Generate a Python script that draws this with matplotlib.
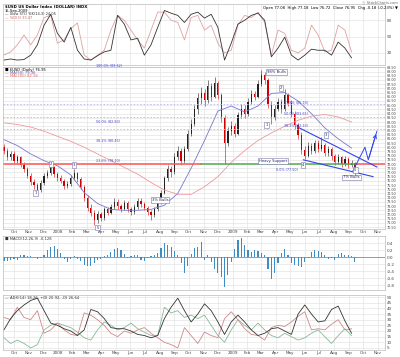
"""
$USD weekly candles with MA(50)/MA(200), stochastics, MACD histogram and ADX.
"""
import numpy as np
import pandas as pd
import matplotlib
matplotlib.use("Agg")
import matplotlib.pyplot as plt
import matplotlib.dates as mdates

# ---- data (weekly, starting 2007-09-10) ----
start = "2007-09-10"
first_open = 80.0
closes = [79.6, 78.8, 79.2, 78.4, 78.8, 77.9, 77.4, 76.6, 75.9, 75.5,
          74.9, 75.8, 76.6, 76.9, 77.6, 76.8, 76.3, 76.0, 75.4, 75.6,
          76.3, 76.9, 76.2, 75.3, 74.0, 72.8, 72.2, 71.3, 72.0, 71.6,
          72.6, 72.2, 72.9, 73.5, 73.0, 72.7, 73.4, 72.6, 72.3, 72.9,
          73.6, 73.2, 72.8, 72.3, 71.9, 72.6, 73.5, 74.6, 76.3, 77.4,
          77.0, 78.8, 79.6, 78.4, 79.8, 81.6, 82.8, 84.5, 85.8, 86.4,
          85.6, 87.3, 86.0, 87.6, 86.2, 83.5, 80.5, 81.9, 82.5, 81.6,
          83.8, 84.6, 83.9, 85.4, 86.3, 86.0, 87.5, 88.6, 88.0, 85.2,
          83.5, 84.6, 85.4, 84.5, 86.2, 85.3, 84.0, 82.6, 81.5, 79.7,
          79.0, 80.2, 79.6, 80.5, 79.8, 80.3, 79.3, 79.8, 78.9, 78.3,
          78.8, 78.0, 78.6, 77.9, 78.1, 76.9]
highs = [80.4, 79.9, 79.6, 79.5, 79.1, 79.0, 78.2, 77.7, 76.9, 76.2,
         75.8, 76.1, 76.9, 77.3, 78.0, 77.8, 77.1, 76.7, 76.2, 76.0,
         76.7, 77.4, 77.1, 76.4, 75.5, 74.3, 73.2, 72.5, 72.4, 72.3,
         72.9, 72.9, 73.2, 73.9, 73.8, 73.3, 73.7, 73.6, 72.9, 73.2,
         74.0, 73.9, 73.5, 73.0, 72.5, 72.9, 73.8, 74.9, 76.6, 77.9,
         77.8, 79.3, 80.2, 79.9, 80.2, 82.0, 83.3, 85.0, 86.5, 87.2,
         86.9, 88.0, 87.6, 88.3, 87.9, 86.5, 83.8, 82.4, 83.1, 82.9,
         84.2, 85.1, 85.0, 85.8, 86.8, 86.7, 88.0, 89.2, 89.0, 88.2,
         85.5, 85.0, 85.9, 85.7, 86.9, 86.5, 85.6, 84.3, 82.9, 81.8,
         80.1, 80.6, 80.5, 80.9, 80.8, 81.2, 80.5, 80.1, 80.0, 79.2,
         79.2, 79.0, 79.0, 78.8, 78.5, 78.3]
lows = [79.2, 78.5, 78.5, 78.1, 78.1, 77.6, 77.0, 76.3, 75.5, 75.0,
        74.5, 74.7, 75.5, 76.3, 76.7, 76.5, 76.0, 75.7, 75.0, 75.1,
        75.4, 76.1, 75.9, 75.0, 73.6, 72.4, 71.8, 70.7, 71.0, 71.2,
        71.4, 71.9, 72.0, 72.7, 72.7, 72.3, 72.5, 72.3, 71.9, 72.1,
        72.7, 72.9, 72.5, 71.9, 71.4, 71.7, 72.4, 73.3, 74.4, 76.0,
        76.5, 76.8, 78.5, 77.9, 78.1, 79.5, 81.3, 82.5, 84.0, 85.2,
        84.9, 85.3, 85.5, 85.8, 85.7, 83.0, 78.0, 80.2, 81.5, 81.2,
        81.4, 83.5, 83.5, 83.7, 85.1, 85.6, 85.8, 87.3, 87.5, 84.7,
        82.8, 83.2, 84.3, 84.1, 84.3, 84.9, 83.6, 82.2, 81.0, 79.2,
        78.6, 78.8, 79.2, 79.3, 79.4, 79.5, 78.9, 79.0, 78.5, 77.9,
        78.0, 77.6, 77.8, 77.5, 77.6, 76.6]

# moving averages, every 4th week
ma50 = [80.9, 80.2, 79.2, 78.4, 77.8, 76.7, 74.6, 73.3, 72.6, 72.5,
        72.5, 72.6, 73.1, 74.5, 77.5, 80.8, 84.3, 84.9, 84.2, 84.9,
        86.4, 86.5, 85.5, 84.0, 82.3, 81.0, 79.9]
ma200 = [82.9, 82.7, 82.4, 81.9, 81.3, 80.7, 80.0, 79.2, 78.4, 77.6,
         76.8, 75.8, 74.9, 74.4, 74.4, 75.3, 76.5, 78.2, 79.6, 80.8,
         81.7, 82.5, 83.2, 83.7, 83.9, 83.6, 83.0]

# indicators, every 2nd week
stoch_k = [7, 9, 7, 8, 16, 35, 71, 91, 56, 40, 67, 25, 9, 7, 15, 22, 25, 89,
           73, 44, 47, 16, 35, 67, 98, 93, 89, 76, 91, 95, 84, 91, 67, 7, 38,
           73, 80, 89, 93, 80, 13, 29, 49, 16, 7, 16, 27, 25, 25, 16, 40, 29, 11]
stoch_d = [16, 22, 35, 53, 35, 53, 85, 89, 38, 44, 65, 75, 16, 7, 16, 25, 62,
           89, 80, 62, 44, 29, 62, 95, 95, 80, 76, 44, 85, 89, 62, 71, 38, 20,
           25, 71, 89, 85, 95, 76, 16, 62, 56, 25, 20, 29, 71, 53, 22, 25, 71, 62, 22]
adx = [21, 31, 38, 43, 47, 49, 38, 27, 25, 22, 20, 16, 21, 39, 37, 31, 23, 22,
       22, 20, 17, 16, 14, 16, 31, 41, 49, 38, 28, 35, 44, 38, 28, 17, 28, 34,
       28, 21, 16, 18, 22, 23, 20, 17, 35, 43, 35, 28, 29, 39, 42, 29, 18]
minus_di = [32, 30, 41, 32, 30, 38, 18, 21, 27, 21, 17, 16, 36, 34, 30, 25, 18,
            15, 20, 18, 21, 23, 18, 14, 10, 8, 5, 23, 16, 9, 19, 16, 14, 31, 37,
            30, 22, 17, 16, 12, 23, 25, 24, 28, 33, 37, 21, 22, 21, 26, 30, 21, 22]
plus_di = [14, 9, 12, 9, 5, 8, 21, 25, 27, 25, 23, 19, 14, 12, 21, 28, 25, 21,
           23, 27, 22, 19, 16, 16, 41, 36, 38, 32, 34, 31, 34, 25, 16, 10, 21,
           30, 25, 21, 27, 21, 16, 14, 18, 15, 12, 14, 18, 21, 15, 9, 16, 22, 16]

# MACD histogram, weekly
macd_hist = [-0.11, -0.11, -0.09, -0.06, -0.09, 0.06, 0.06, 0.03, 0.03, 0.01,
             -0.06, -0.03, 0.06, 0.20, 0.29, 0.31, 0.23, 0.11, -0.06, -0.14,
             -0.06, 0.03, -0.06, -0.11, -0.23, -0.26, -0.26, -0.17, -0.09, -0.06,
             0.03, 0.06, 0.14, 0.23, 0.26, 0.20, 0.09, -0.03, 0.03, 0.06,
             0.06, -0.09, -0.11, -0.03, 0.03, 0.06, 0.11, 0.26, 0.40, 0.34,
             0.29, 0.17, 0.06, -0.17, -0.46, -0.26, 0.09, 0.26, 0.29, 0.43,
             -0.09, 0.06, -0.14, -0.34, -0.46, -0.57, -0.86, -0.51, -0.14, 0.23,
             0.49, 0.54, 0.34, 0.20, 0.14, 0.20, 0.17, 0.11, 0.06, -0.34,
             -0.63, -0.46, -0.17, 0.11, 0.23, 0.06, -0.17, -0.23, -0.26, -0.29,
             -0.14, -0.03, 0.14, 0.20, 0.17, 0.14, 0.06, -0.06, -0.03, -0.09,
             0.09, 0.11, 0.06, 0.06, 0.03, -0.14]

support = 78.0
fib_levels = [85.2, 83.6, 82.2]
upper_dates = ["2009-05-17", "2009-10-30"]
upper_vals = [82.4, 77.65]
lower_dates = ["2009-05-29", "2009-10-22"]
lower_vals = [78.5, 76.5]
proj_dates = ["2009-09-10", "2009-10-05", "2009-10-12", "2009-10-30"]
proj_vals = [77.2, 80.0, 78.5, 81.9]


def d(s):
    return mdates.date2num(pd.Timestamp(s))


weeks = mdates.date2num(pd.date_range(start, periods=len(closes), freq="7D"))
opens = [first_open] + closes[:-1]
xlim = (d("2007-09-08"), d("2009-11-16"))
months = pd.date_range("2007-10-01", "2009-11-01", freq="MS")
month_x = mdates.date2num(months)
month_lbl = [str(m.year) if m.month == 1 else m.strftime("%b") for m in months]

GRID = "#e4e4e4"
FS = 3.0

fig = plt.figure(figsize=(4, 3.57), dpi=100)
fig.patch.set_facecolor("white")
ax_top = fig.add_axes([0.0075, 0.818, 0.955, 0.171])
ax = fig.add_axes([0.0075, 0.3585, 0.955, 0.454])
ax_macd = fig.add_axes([0.0075, 0.1877, 0.955, 0.151])
ax_adx = fig.add_axes([0.0075, 0.0196, 0.955, 0.154])

for a in (ax_top, ax, ax_macd, ax_adx):
    a.set_xlim(*xlim)
    a.set_xticks(month_x)
    a.grid(True, color=GRID, lw=0.5)
    a.set_axisbelow(True)
    a.yaxis.tick_right()
    a.tick_params(length=0, labelsize=FS, pad=1, colors="#444444")
    for s in a.spines.values():
        s.set_color("#bbbbbb")
        s.set_linewidth(0.5)
for a in (ax_top, ax_macd):
    a.set_xticklabels([])
for a in (ax, ax_adx):
    a.set_xticklabels(month_lbl)

# ---- top panel: stochastics ----
w2 = weeks[::2]
ax_top.plot(w2, stoch_d, color="#e0a0a0", lw=0.6)
ax_top.plot(w2, stoch_k, color="#333333", lw=0.6)
ax_top.set_ylim(-2, 110)
ax_top.set_yticks([20, 50, 80])
ax_top.text(0.005, 0.99, "$USD US Dollar Index (DOLLAR) INDX", transform=ax_top.transAxes,
            fontsize=FS - 0.2, va="top", fontweight="bold")
ax_top.text(0.005, 0.92, "15-Sep-2009", transform=ax_top.transAxes, fontsize=FS - 0.4, va="top")
ax_top.text(0.005, 0.86, "— Slow STO %K(14,3) 24.05", transform=ax_top.transAxes,
            fontsize=FS - 0.4, va="top", color="#333333")
ax_top.text(0.005, 0.80, "— %D(3) 33.47", transform=ax_top.transAxes,
            fontsize=FS - 0.4, va="top", color="#cc6666")
fig.text(0.995, 0.997, "© StockCharts.com", fontsize=FS - 0.4, ha="right", va="top", color="#666666")
fig.text(0.995, 0.983, "Open 77.08  High 77.18  Low 76.72  Close 76.95  Chg -0.18 (-0.23%) ▼",
         fontsize=FS - 0.3, ha="right", va="top")

# ---- main panel: candles ----
for x, o, h, l, c in zip(weeks, opens, highs, lows, closes):
    col = "#cc0000" if c < o else "#222222"
    ax.vlines(x, l, h, color=col, lw=0.4)
    ax.bar(x, max(abs(c - o), 0.05), bottom=min(o, c), width=2.6, color=col, lw=0)

w4 = weeks[::4]
ax.plot(w4, ma50, color="#7777cc", lw=0.6)
ax.plot(w4, ma200, color="#ee9999", lw=0.6)

for lvl in fib_levels:
    ax.axhline(lvl, color="#b8b8ee", lw=0.6, ls=(0, (2, 2)))

ax.plot([xlim[0], d("2008-10-26")], [support, support], color="#ff5555", lw=1.1)
ax.plot([d("2008-10-26"), d("2009-09-18")], [support, support], color="#55aa55", lw=1.1)
ax.plot([d("2009-09-18"), xlim[1]], [support, support], color="#ff5555", lw=1.1)

ax.plot([d(s) for s in upper_dates], upper_vals, color="#3344ee", lw=0.8)
ax.plot([d(s) for s in lower_dates], lower_vals, color="#3344ee", lw=0.8)
px = [d(s) for s in proj_dates]
ax.plot(px, proj_vals, color="#3344ee", lw=0.7)
ax.annotate("", xy=(px[-1], proj_vals[-1]), xytext=(px[-2], proj_vals[-2]),
            arrowprops=dict(arrowstyle="->", color="#3344ee", lw=0.7, mutation_scale=6))

box = dict(boxstyle="square,pad=0.25", fc="white", ec="#7777aa", lw=0.4)
notes = [("1", "2007-11-15", 74.55), ("2", "2007-12-17", 78.0), ("3", "2008-02-03", 77.9),
         ("5", "2008-03-24", 70.45), ("3% Bulls", "2008-07-15", 73.7),
         ("98% Bulls", "2009-03-13", 88.95), ("2", "2009-04-12", 87.05),
         ("1", "2009-03-13", 82.65), ("3", "2009-07-15", 81.5),
         ("Heavy Support", "2009-02-25", 78.35), ("4", "2009-05-29", 77.9),
         ("5", "2009-09-15", 77.3), ("7% Bulls", "2009-08-20", 76.4)]
for txt, ds, yv in notes:
    ax.text(d(ds), yv, txt, fontsize=FS - 0.3, ha="left" if len(txt) > 2 else "center",
            va="center", bbox=box, color="#222266")

fib_text = [("2008-03-20", 89.4, "100.0% (89.62)"), ("2008-03-20", 82.8, "50.0% (82.80)"),
            ("2008-03-20", 80.5, "38.2% (80.45)"), ("2008-03-20", 78.1, "23.6% (78.10)"),
            ("2009-04-18", 85.0, "61.8% (85.10)"), ("2009-04-18", 83.7, "50.0% (83.65)"),
            ("2009-04-18", 82.3, "38.2% (82.20)"), ("2009-04-02", 77.05, "0.0% (77.50)")]
for ds, yv, txt in fib_text:
    ax.text(d(ds), yv, txt, fontsize=FS - 0.6, color="#4444cc", va="bottom")

ax.set_ylim(70.27, 89.55)
ax.set_yticks(np.arange(70.5, 89.6, 0.5))
ax.yaxis.set_major_formatter(plt.FormatStrFormatter("%.2f"))
ax.tick_params(axis="y", labelsize=FS - 0.6)
ax.text(0.005, 0.995, "■ $USD (Daily) 76.95", transform=ax.transAxes, fontsize=FS - 0.3, va="top")
ax.text(0.005, 0.975, "— MA(50) 79.36", transform=ax.transAxes, fontsize=FS - 0.3, va="top",
        color="#5555bb")
ax.text(0.005, 0.955, "— MA(200) 82.94", transform=ax.transAxes, fontsize=FS - 0.3, va="top",
        color="#dd6666")

# ---- MACD histogram ----
ax_macd.bar(weeks, macd_hist, width=2.4, color="#3d8cc4", lw=0)
ax_macd.axhline(0, color="#3d8cc4", lw=0.5)
ax_macd.set_ylim(-0.94, 0.6)
ax_macd.set_yticks([-0.8, -0.6, -0.4, -0.2, 0.0, 0.2, 0.4])
ax_macd.yaxis.set_major_formatter(plt.FormatStrFormatter("%.1f"))
ax_macd.text(0.005, 0.99, "■ MACD(12,26,9) -0.128", transform=ax_macd.transAxes,
             fontsize=FS - 0.3, va="top", color="#333333")

# ---- ADX ----
ax_adx.plot(w2, plus_di, color="#88b898", lw=0.6)
ax_adx.plot(w2, minus_di, color="#d08888", lw=0.6)
ax_adx.plot(w2, adx, color="#333333", lw=0.6)
ax_adx.set_ylim(3.2, 51.8)
ax_adx.set_yticks(range(5, 51, 5))
ax_adx.text(0.005, 0.99, "— ADX(14) 18.26, +DI 20.92, -DI 26.64", transform=ax_adx.transAxes,
            fontsize=FS - 0.3, va="top", color="#333333")

fig.savefig("out.png", dpi=100)
